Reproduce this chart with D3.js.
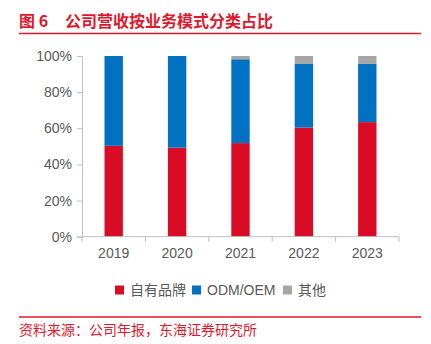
<!DOCTYPE html>
<html><head><meta charset="utf-8">
<script src="https://cdn.jsdelivr.net/npm/d3@7/dist/d3.min.js"></script>
<style>body{margin:0;background:#fff}svg{display:block}</style>
</head><body>
<svg id="c" width="431" height="344"></svg>
<script>
const years = ["2019","2020","2021","2022","2023"];
const ownBrand = [50.3, 49.3, 51.8, 60.4, 63.4];
const odmOem = [49.7, 50.7, 46.4, 35.2, 32.4];
const other = [0, 0, 1.8, 4.4, 4.2];
const seriesNames = ["自有品牌","ODM/OEM","其他"];
const yTicks = [0,20,40,60,80,100];
const colors = ["#d90c26","#0070c0","#a6a6a6"];
const titleNum = "图 6";
const titleText = "公司营收按业务模式分类占比";
const sourceText = "资料来源：公司年报，东海证券研究所";

const svg = d3.select("#c");
const font = "'Liberation Sans', Arial, 'Noto Sans CJK SC', sans-serif";
const red = "#e0182d";

// title
svg.append("text").attr("x",19).attr("y",27).attr("fill",red)
  .attr("font-family","'Noto Sans CJK SC', sans-serif").attr("font-weight","bold")
  .attr("font-size",16).text(titleNum);
svg.append("text").attr("x",65).attr("y",27).attr("fill",red)
  .attr("font-family","'Noto Sans CJK SC', sans-serif").attr("font-weight","bold")
  .attr("font-size",16).text(titleText);
svg.append("line").attr("x1",19).attr("x2",421).attr("y1",33.5).attr("y2",33.5)
  .attr("stroke",red).attr("stroke-width",1.5);
svg.append("line").attr("x1",19).attr("x2",421).attr("y1",317).attr("y2",317)
  .attr("stroke",red).attr("stroke-width",1.5);
svg.append("text").attr("x",19).attr("y",335).attr("fill",red)
  .attr("font-family","'Noto Sans CJK SC', sans-serif")
  .attr("font-size",14).text(sourceText);

const x0 = 82, x1 = 399, yT = 56, yB = 236.7;
const x = d3.scaleBand().domain(years).range([x0,x1]).paddingInner(0.71).paddingOuter(0.355);
const y = d3.scaleLinear().domain([0,100]).range([yB,yT]);

const data = years.map((yr,i)=>({year:yr, s0:ownBrand[i], s1:odmOem[i], s2:other[i]}));
const stack = d3.stack().keys(["s0","s1","s2"])(data);

const g = svg.append("g");
stack.forEach((layer,k)=>{
  g.selectAll(null).data(layer).enter().append("rect")
    .attr("x",d=>x(d.data.year)).attr("width",x.bandwidth())
    .attr("y",d=>y(d[1])).attr("height",d=>Math.max(0,y(d[0])-y(d[1])))
    .attr("fill",colors[k]);
});

// y axis
const ya = svg.append("g").attr("transform",`translate(${x0},0)`)
  .call(d3.axisLeft(y).tickValues(yTicks).tickFormat(d=>d+"%").tickSize(5).tickPadding(5));
ya.select(".domain").attr("stroke","#bfbfbf");
ya.selectAll(".tick line").attr("stroke","#bfbfbf");
ya.selectAll("text").attr("fill","#595959").attr("font-size",14).attr("font-family",font);

// x axis
const xa = svg.append("g").attr("transform",`translate(0,${yB})`)
  .call(d3.axisBottom(x).tickSize(0).tickPadding(11));
xa.select(".domain").attr("stroke","#bfbfbf").attr("d",`M${x0},0H${x1}`);
xa.selectAll("text").attr("fill","#595959").attr("font-size",14).attr("font-family",font);
const bounds = years.map((yr)=>x(yr)+x.bandwidth()+x.step()*x.paddingInner()/2);
xa.selectAll(".bt").data([x0,...bounds]).enter().append("line")
  .attr("x1",d=>d).attr("x2",d=>d).attr("y1",0).attr("y2",5).attr("stroke","#bfbfbf");

// legend
const legX = [115, 192, 283];
const lg = svg.append("g");
seriesNames.forEach((n,i)=>{
  lg.append("rect").attr("x",legX[i]).attr("y",285.5).attr("width",9).attr("height",9).attr("fill",colors[i]);
  lg.append("text").attr("x",legX[i]+15).attr("y",295).attr("fill","#595959")
    .attr("font-size",14).attr("font-family",font).text(n);
});
</script>
</body></html>
